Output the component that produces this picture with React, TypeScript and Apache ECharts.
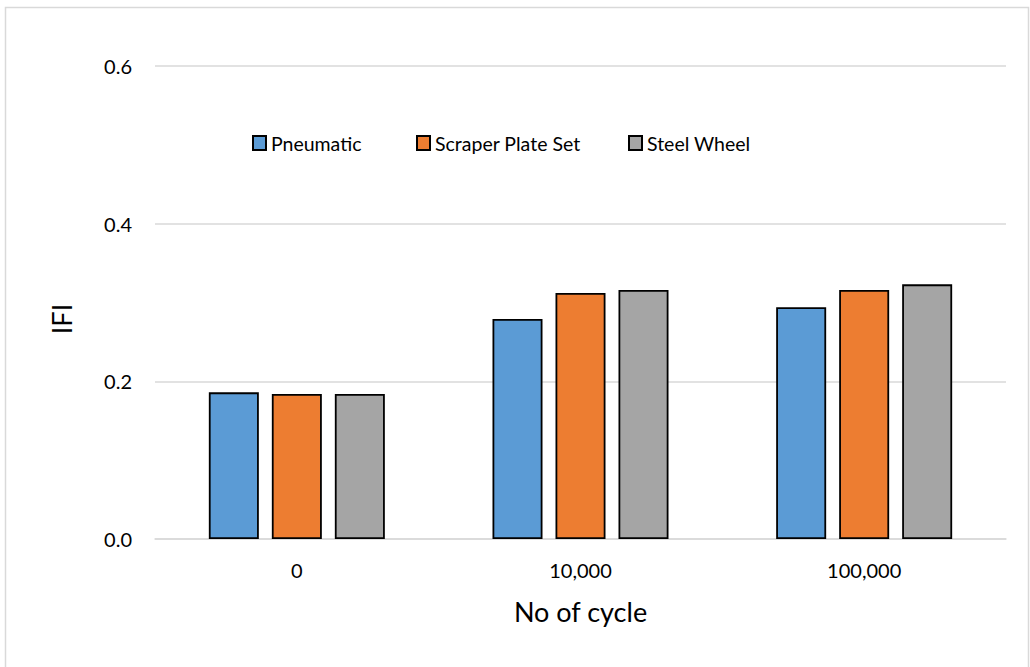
import React, { useEffect, useRef } from "react";
import * as echarts from "echarts";

const categories = ["0", "10,000", "100,000"];
const seriesNames = ["Pneumatic", "Scraper Plate Set", "Steel Wheel"];
const pneumatic = [0.186, 0.279, 0.294];
const scraperPlateSet = [0.184, 0.312, 0.316];
const steelWheel = [0.184, 0.316, 0.323];
const yTicks = [0, 0.2, 0.4, 0.6];
const colors = ["#5B9BD5", "#ED7D31", "#A5A5A5"];

const FONT = "Lato, 'Open Sans', sans-serif";

export default function App() {
  const ref = useRef<HTMLDivElement>(null);
  useEffect(() => {
    if (!ref.current) return;
    const chart = echarts.init(ref.current, null, { renderer: "svg" });
    const values = [pneumatic, scraperPlateSet, steelWheel];
    const legendLefts = [252, 416, 628];
    chart.setOption({
      animation: false,
      backgroundColor: "#ffffff",
      textStyle: { fontFamily: FONT },
      graphic: [
        {
          type: "rect",
          shape: { x: 5.5, y: 7.5, width: 1023, height: 700 },
          style: { fill: "none", stroke: "#d9d9d9", lineWidth: 1.5 },
          silent: true,
          z: -1,
        },
        {
          type: "text",
          x: 61,
          y: 319,
          rotation: Math.PI / 2,
          style: {
            text: "IFI",
            fontSize: 27,
            fontFamily: FONT,
            fill: "#000000",
            textAlign: "center",
            textVerticalAlign: "middle",
          },
        },
      ],
      legend: seriesNames.map((n, i) => ({
        data: [n],
        left: legendLefts[i],
        top: 133,
        padding: 0,
        itemWidth: 13,
        itemHeight: 14,
        itemGap: 4,
        icon: "rect",
        textStyle: { fontSize: 19.5, color: "#000000", fontFamily: FONT },
      })),
      grid: { left: 155, right: 24, top: 66, bottom: 128, containLabel: false },
      xAxis: {
        type: "category",
        data: categories,
        name: "No of cycle",
        nameLocation: "middle",
        nameGap: 59,
        nameTextStyle: { fontSize: 27, color: "#000000", fontFamily: FONT },
        axisLine: { lineStyle: { color: "#d9d9d9", width: 1.5 } },
        axisTick: { show: false },
        axisLabel: { fontSize: 20, color: "#000000", margin: 21, fontFamily: FONT },
      },
      yAxis: {
        type: "value",
        min: yTicks[0],
        max: yTicks[yTicks.length - 1],
        interval: 0.2,
        axisLine: { show: false },
        axisTick: { show: false },
        splitLine: { lineStyle: { color: "#d9d9d9", width: 1.5 } },
        axisLabel: {
          fontSize: 20,
          color: "#000000",
          margin: 23,
          fontFamily: FONT,
          formatter: (v: number) => v.toFixed(1),
        },
      },
      series: seriesNames.map((n, i) => ({
        name: n,
        type: "bar",
        data: values[i],
        barWidth: 50,
        barGap: "26%",
        itemStyle: { color: colors[i], borderColor: "#000000", borderWidth: 1.8 },
      })),
    });
    return () => chart.dispose();
  }, []);
  return (
    <div
      ref={ref}
      style={{ position: "fixed", left: 0, top: 0, width: 1030, height: 667 }}
    />
  );
}
